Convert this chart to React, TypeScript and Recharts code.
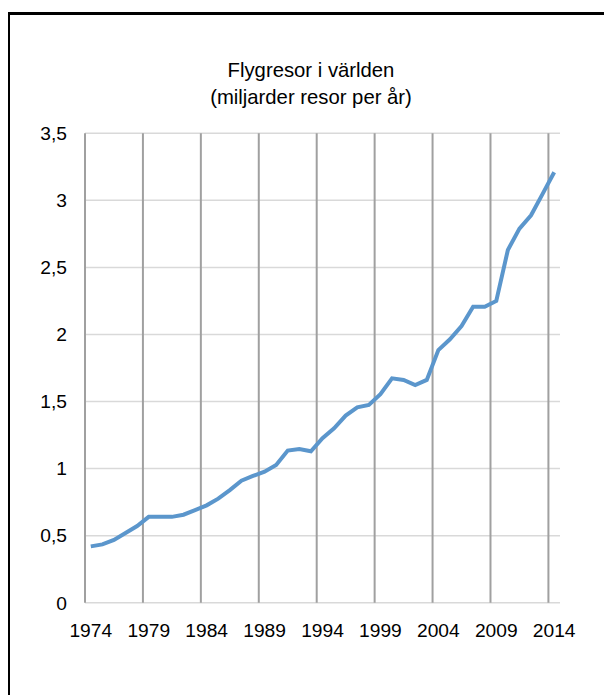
import { LineChart, Line, XAxis, YAxis, CartesianGrid, ReferenceLine } from 'recharts';

const years = [
  1974, 1975, 1976, 1977, 1978, 1979, 1980, 1981, 1982, 1983,
  1984, 1985, 1986, 1987, 1988, 1989, 1990, 1991, 1992, 1993,
  1994, 1995, 1996, 1997, 1998, 1999, 2000, 2001, 2002, 2003,
  2004, 2005, 2006, 2007, 2008, 2009, 2010, 2011, 2012, 2013, 2014,
];

// miljarder resor per år
const passengers = [
  0.42, 0.435, 0.468, 0.52, 0.572, 0.64, 0.64, 0.64, 0.656, 0.69,
  0.726, 0.776, 0.84, 0.91, 0.945, 0.977, 1.027, 1.134, 1.146, 1.129,
  1.226, 1.3, 1.395, 1.457, 1.474, 1.554, 1.673, 1.661, 1.623, 1.661,
  1.884, 1.964, 2.063, 2.207, 2.207, 2.25, 2.63, 2.789, 2.889, 3.048, 3.21,
];

const xTicks = [1974, 1979, 1984, 1989, 1994, 1999, 2004, 2009, 2014];
const yTicks = [0, 0.5, 1, 1.5, 2, 2.5, 3, 3.5];
// vertical grid lines sit on the category boundaries
const gridYears = [1973.5, 1978.5, 1983.5, 1988.5, 1993.5, 1998.5, 2003.5, 2008.5, 2013.5];

const data = years.map((year, i) => ({ year, value: passengers[i] }));

const font = '"Liberation Sans", Arial, sans-serif';
const tickStyle = { fill: '#000', fontSize: 19.2, fontFamily: font };

export default function App() {
  return (
    <div style={{ position: 'relative', width: 604, height: 687, overflow: 'hidden' }}>
      <div
        style={{
          position: 'absolute',
          left: -1,
          top: 4,
          width: 700,
          height: 700,
          borderTop: '3px solid #000',
          borderLeft: '3px solid #000',
        }}
      />
      <div
        style={{
          position: 'absolute',
          left: 0,
          width: 606,
          top: 48.5,
          textAlign: 'center',
          fontFamily: font,
          fontSize: 20.3,
          lineHeight: '27px',
          color: '#000',
        }}
      >
        Flygresor i världen
        <br />
        (miljarder resor per år)
      </div>
      <div style={{ position: 'absolute', left: 0, top: 0 }}>
        <LineChart width={604} height={687} data={data} margin={{ top: 125.3, right: 52, bottom: 62.3, left: 0 }}>
          <CartesianGrid vertical={false} stroke="#d9d9d9" strokeWidth={1.5} />
          <XAxis
            dataKey="year"
            type="number"
            domain={[1973.5, 2014.5]}
            ticks={xTicks}
            interval={0}
            height={30}
            axisLine={false}
            tickLine={false}
            tickMargin={15}
            tick={tickStyle}
          />
          <YAxis
            domain={[0, 3.5]}
            ticks={yTicks}
            width={77}
            axisLine={false}
            tickLine={false}
            tickMargin={12}
            tick={tickStyle}
            tickFormatter={(v: number) => String(v).replace('.', ',')}
          />
          {gridYears.map((g) => (
            <ReferenceLine key={g} x={g} stroke="#a0a0a0" strokeWidth={2} />
          ))}
          <Line
            type="linear"
            dataKey="value"
            stroke="#5b96cc"
            strokeWidth={4}
            dot={false}
            isAnimationActive={false}
          />
        </LineChart>
      </div>
    </div>
  );
}
